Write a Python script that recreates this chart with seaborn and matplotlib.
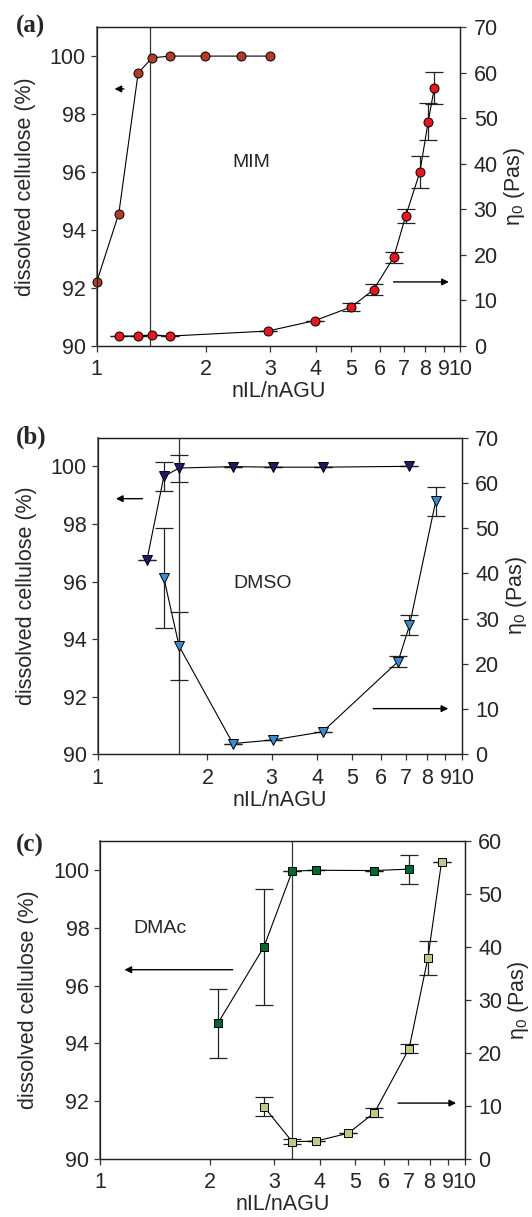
import numpy as np
import pandas as pd
import matplotlib
matplotlib.use("Agg")
import matplotlib.pyplot as plt
from matplotlib.ticker import FixedLocator, FixedFormatter, NullLocator
import seaborn as sns

# ---------------- data ----------------
# (a) MIM
a_left_x = [1.0, 1.15, 1.30, 1.42, 1.59, 1.99, 2.49, 2.99]
a_left_y = [92.2, 94.56, 99.42, 99.94, 100.0, 100.0, 100.0, 100.0]
a_right_x = [1.15, 1.30, 1.42, 1.59, 2.95, 3.98, 5.01, 5.77, 6.55, 7.07, 7.73, 8.15, 8.47]
a_right_y = [2.1, 2.1, 2.3, 2.1, 3.2, 5.5, 8.5, 12.3, 19.4, 28.5, 38.1, 49.2, 56.6]
a_right_err = [0, 0, 0, 0, 0, 0, 0.8, 1.2, 1.2, 1.5, 3.5, 4.1, 3.5]
a_vline = 1.40

# (b) DMSO
b_left_x = [1.365, 1.519, 1.673, 2.35, 3.03, 4.14, 7.17]
b_left_y = [96.75, 99.65, 99.94, 99.99, 99.97, 99.97, 100.0]
b_left_err = [0, 0.5, 0.47, 0, 0, 0, 0]
b_right_x = [1.519, 1.673, 2.35, 3.03, 4.14, 6.67, 7.17, 8.46]
b_right_y = [39.0, 23.9, 2.4, 3.2, 5.0, 20.5, 28.5, 55.9]
b_right_err = [11.0, 7.5, 0, 0, 0, 1.3, 2.2, 3.2]
b_vline = 1.673

# (c) DMAc
c_left_x = [2.10, 2.81, 3.36, 3.90, 5.65, 7.03]
c_left_y = [94.69, 97.34, 99.97, 100.0, 99.99, 100.04]
c_left_err = [1.2, 2.0, 0, 0, 0, 0.5]
c_right_x = [2.81, 3.36, 3.90, 4.79, 5.65, 7.03, 7.92, 8.63]
c_right_y = [9.8, 3.2, 3.3, 4.8, 8.7, 20.8, 38.0, 56.1]
c_right_err = [1.8, 0.5, 0, 0, 0.8, 0.8, 3.2, 0]
c_vline = 3.36

x_ticks = [1, 2, 3, 4, 5, 6, 7, 8, 9, 10]
x_ticklabels = ["1", "2", "3", "4", "5", "6", "7", "8", "9", "10"]
left_ticks = [90, 92, 94, 96, 98, 100]

# ---------------- style ----------------
sns.set_style("ticks")
plt.rcParams["font.family"] = ["Liberation Sans", "DejaVu Sans"]
plt.rcParams["mathtext.fontset"] = "custom"
plt.rcParams["mathtext.rm"] = "Liberation Sans"
plt.rcParams["mathtext.it"] = "Liberation Sans"
plt.rcParams["xtick.direction"] = "out"
plt.rcParams["ytick.direction"] = "out"

FS = 15.5

fig = plt.figure(figsize=(5.32, 12.17), dpi=100)

panels = [
    dict(rect=[0.1818, 0.716, 0.6838, 0.2617], tag="(a)", tag_y=0.978,
         lx=a_left_x, ly=a_left_y, lerr=None, rx=a_right_x, ry=a_right_y, rerr=a_right_err,
         vline=a_vline, marker="o", lcol="#B23A2A", rcol="#E8161E", ms=6.5,
         rmax=70, rticks=[0, 10, 20, 30, 40, 50, 60, 70], name="MIM", name_xy=(0.425, 0.574),
         larrow=((0.0748, 0.806), (0.049, 0.806)), rarrow=((0.816, 0.200), (0.968, 0.200))),
    dict(rect=[0.1836, 0.3801, 0.6851, 0.2604], tag="(b)", tag_y=0.6405,
         lx=b_left_x, ly=b_left_y, lerr=b_left_err, rx=b_right_x, ry=b_right_y, rerr=b_right_err,
         vline=b_vline, marker="v", lcol="#1C1C66", rcol="#3A8CCF", ms=6.5,
         rmax=70, rticks=[0, 10, 20, 30, 40, 50, 60, 70], name="DMSO", name_xy=(0.4535, 0.5396),
         larrow=((0.123, 0.807), (0.050, 0.807)), rarrow=((0.756, 0.1445), (0.962, 0.1445))),
    dict(rect=[0.1887, 0.048, 0.6851, 0.2606], tag="(c)", tag_y=0.3055,
         lx=c_left_x, ly=c_left_y, lerr=c_left_err, rx=c_right_x, ry=c_right_y, rerr=c_right_err,
         vline=c_vline, marker="s", lcol="#006633", rcol="#B8CC88", ms=6,
         rmax=60, rticks=[0, 10, 20, 30, 40, 50, 60], name="DMAc", name_xy=(0.164, 0.724),
         larrow=((0.363, 0.5955), (0.066, 0.5955)), rarrow=((0.8165, 0.175), (0.976, 0.175))),
]

for p in panels:
    ax = fig.add_axes(p["rect"])
    ax2 = ax.twinx()
    ax.set_xscale("log")
    ax.set_xlim(1, 10)
    ax.set_ylim(90, 101)
    ax2.set_ylim(0, p["rmax"])

    dfl = pd.DataFrame({"x": p["lx"], "y": p["ly"]})
    dfr = pd.DataFrame({"x": p["rx"], "y": p["ry"]})

    # error bars
    if p["lerr"] is not None:
        ax.errorbar(p["lx"], p["ly"], yerr=p["lerr"], fmt="none", ecolor="#222222",
                    elinewidth=0.9, capsize=6.5, capthick=0.9, zorder=2)
    ax2.errorbar(p["rx"], p["ry"], yerr=p["rerr"], fmt="none", ecolor="#222222",
                 elinewidth=0.9, capsize=6.5, capthick=0.9, zorder=2)

    sns.lineplot(data=dfl, x="x", y="y", ax=ax, color="black", linewidth=0.8,
                 marker=p["marker"], markersize=p["ms"], markerfacecolor=p["lcol"],
                 markeredgecolor="black", markeredgewidth=0.7, sort=False,
                 estimator=None, clip_on=False, zorder=3)
    sns.lineplot(data=dfr, x="x", y="y", ax=ax2, color="black", linewidth=0.8,
                 marker=p["marker"], markersize=p["ms"], markerfacecolor=p["rcol"],
                 markeredgecolor="black", markeredgewidth=0.7, sort=False,
                 estimator=None, clip_on=False, zorder=3)

    ax.axvline(p["vline"], color="#333333", linewidth=0.9, zorder=1)

    # axes formatting
    ax.xaxis.set_major_locator(FixedLocator(x_ticks))
    ax.xaxis.set_major_formatter(FixedFormatter(x_ticklabels))
    ax.xaxis.set_minor_locator(NullLocator())
    ax.set_yticks(left_ticks)
    ax2.set_yticks(p["rticks"])
    ax.tick_params(axis="both", labelsize=FS, length=4.5, width=0.9, color="#333333")
    ax2.tick_params(axis="y", labelsize=FS, length=4.5, width=0.9, color="#333333", pad=5)
    ax.tick_params(axis="x", pad=5)
    ax.set_xlabel("nIL/nAGU", fontsize=FS, labelpad=1)
    ax.set_ylabel("dissolved cellulose (%)", fontsize=FS, labelpad=10)
    ax2.set_ylabel("η$_0$ (Pas)", fontsize=FS, labelpad=3)
    ax2.set_xlabel("")
    for a in (ax, ax2):
        for s in a.spines.values():
            s.set_visible(True)
            s.set_linewidth(0.9)
            s.set_color("#222222")
    ax.spines["left"].set_color("#666666")
    ax.spines["left"].set_linewidth(1.2)

    ax2.text(p["name_xy"][0], p["name_xy"][1], p["name"], transform=ax2.transAxes,
             fontsize=14, ha="center", va="center")
    for (tail, head) in (p["larrow"], p["rarrow"]):
        ax2.annotate("", xy=head, xytext=tail, xycoords="axes fraction",
                     textcoords="axes fraction",
                     arrowprops=dict(arrowstyle="-|>", color="black", lw=1.0,
                                     mutation_scale=10, shrinkA=0, shrinkB=0))
    fig.text(0.030, p["tag_y"], p["tag"], fontsize=18, fontweight="bold",
             family="Liberation Serif", ha="left", va="center")

fig.savefig("out.png", dpi=100)
